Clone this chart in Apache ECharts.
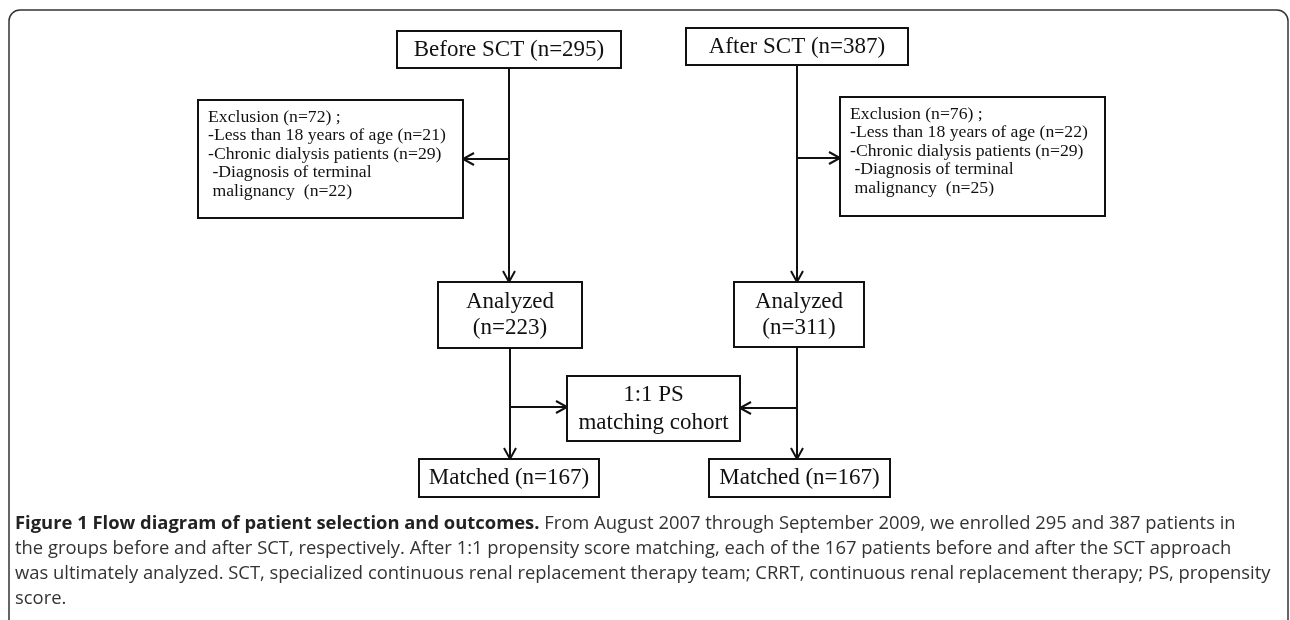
<!DOCTYPE html>
<html>
<head>
<meta charset="utf-8">
<title>Flow diagram of patient selection</title>
<script src="https://cdn.jsdelivr.net/npm/echarts@6/dist/echarts.min.js"></script>
<style>
    html, body { margin: 0; padding: 0; background: #fff; }
    #main { width: 1290px; height: 620px; }
</style>
</head>
<body>
<div id="main"></div>
<script>
    // counts, [before SCT, after SCT]
    var groups = ['Before SCT', 'After SCT'];
    var enrolled = [295, 387];
    var excluded = [72, 76];
    var under18 = [21, 22];
    var dialysis = [29, 29];
    var malignancy = [22, 25];
    var analyzed = [223, 311];
    var matched = [167, 167];
    var matchingLabel = ['1:1 PS', 'matching cohort'];

    function exclusionText(i) {
        return 'Exclusion (n=' + excluded[i] + ') ;\n' +
            '-Less than 18 years of age (n=' + under18[i] + ')\n' +
            '-Chronic dialysis patients (n=' + dialysis[i] + ')\n' +
            ' -Diagnosis of terminal\n' +
            ' malignancy  (n=' + malignancy[i] + ')';
    }

    var nodeTexts = [
        groups[0] + ' (n=' + enrolled[0] + ')',
        groups[1] + ' (n=' + enrolled[1] + ')',
        exclusionText(0),
        exclusionText(1),
        'Analyzed\n(n=' + analyzed[0] + ')',
        'Analyzed\n(n=' + analyzed[1] + ')',
        matchingLabel.join('\n'),
        'Matched (n=' + matched[0] + ')',
        'Matched (n=' + matched[1] + ')'
    ];
    var nodeKind = ['head', 'head', 'excl', 'excl', 'ana', 'ana', 'ps', 'mat', 'mat'];

    // layout: box corners [x0, y0, x1, y1] on the hidden axes
    var nodeBoxes = [
        [397, 31, 621, 68],
        [686, 28, 908, 65],
        [198, 100, 463, 218],
        [840, 97, 1105, 216],
        [438, 282, 582, 348],
        [734, 282, 864, 347],
        [567, 376, 740, 441],
        [419, 459, 599, 497],
        [709, 459, 890, 497]
    ];

    // arrows [x0, y0, x1, y1], head at the second point
    var links = [
        [509, 68, 509, 282],
        [509, 159, 463, 159],
        [797, 65, 797, 282],
        [797, 158, 840, 158],
        [510, 348, 510, 459],
        [510, 407, 567, 407],
        [797, 347, 797, 459],
        [797, 408, 740, 408]
    ];

    var ink = '#111';

    function renderBox(params, api) {
        var i = params.dataIndex;
        var p0 = api.coord([api.value(0), api.value(1)]);
        var p1 = api.coord([api.value(2), api.value(3)]);
        var w = p1[0] - p0[0];
        var h = p1[1] - p0[1];
        var kind = nodeKind[i];
        var left = kind === 'excl';
        var lh = left ? 18.5 : (kind === 'ps' ? 28 : 26);
        return {
            type: 'group',
            children: [{
                type: 'rect',
                shape: { x: p0[0], y: p0[1], width: w, height: h },
                style: { fill: '#fff', stroke: ink, lineWidth: 2 }
            }, {
                type: 'text',
                style: {
                    text: nodeTexts[i],
                    x: left ? p0[0] + 10 : p0[0] + w / 2,
                    y: left ? p0[1] + 8 : p0[1] + h / 2,
                    align: left ? 'left' : 'center',
                    verticalAlign: left ? 'top' : 'middle',
                    fontFamily: 'Liberation Serif',
                    fontSize: left ? 17.7 : 23,
                    lineHeight: lh,
                    fill: ink
                }
            }]
        };
    }

    function renderLink(params, api) {
        var a = api.coord([api.value(0), api.value(1)]);
        var b = api.coord([api.value(2), api.value(3)]);
        var dx = b[0] - a[0], dy = b[1] - a[1];
        var len = Math.sqrt(dx * dx + dy * dy);
        var ux = dx / len, uy = dy / len;
        var L = 11, W = 6;
        return {
            type: 'group',
            children: [{
                type: 'line',
                shape: { x1: a[0], y1: a[1], x2: b[0], y2: b[1] },
                style: { stroke: ink, lineWidth: 2 }
            }, {
                type: 'polyline',
                shape: {
                    points: [
                        [b[0] - ux * L - uy * W, b[1] - uy * L + ux * W],
                        [b[0], b[1]],
                        [b[0] - ux * L + uy * W, b[1] - uy * L - ux * W]
                    ]
                },
                style: { stroke: ink, lineWidth: 2, fill: null }
            }]
        };
    }

    var caption =
        '{b|Figure 1 Flow diagram of patient selection and outcomes.}{n| From August 2007 through September 2009, we enrolled 295 and 387 patients in}\n' +
        '{n|the groups before and after SCT, respectively. After 1:1 propensity score matching, each of the 167 patients before and after the SCT approach}\n' +
        '{n|was ultimately analyzed. SCT, specialized continuous renal replacement therapy team; CRRT, continuous renal replacement therapy; PS, propensity}\n' +
        '{n|score.}';

    var myChart = echarts.init(document.getElementById('main'));
    var option = {
        animation: false,
        backgroundColor: '#fff',
        title: {
            left: 15,
            top: 511,
            padding: 0,
            text: caption,
            textStyle: {
                fontWeight: 'normal',
                rich: {
                    b: { fontFamily: 'Open Sans', fontSize: 18.4, fontWeight: 'bold', color: '#222', lineHeight: 25 },
                    n: { fontFamily: 'Open Sans', fontSize: 18.4, fontWeight: 'normal', color: '#333', lineHeight: 25 }
                }
            }
        },
        grid: { left: 0, right: 0, top: 0, bottom: 0 },
        xAxis: { type: 'value', min: 0, max: 1290, show: false },
        yAxis: { type: 'value', min: 0, max: 620, inverse: true, show: false },
        graphic: [{
            // outer figure frame, open at the bottom
            type: 'rect',
            shape: { x: 9, y: 10, width: 1279, height: 640, r: [11, 11, 0, 0] },
            style: { fill: 'none', stroke: '#333', lineWidth: 1.5 },
            silent: true
        }],
        series: [{
            type: 'custom',
            name: 'links',
            silent: true,
            renderItem: renderLink,
            encode: { x: [0, 2], y: [1, 3] },
            data: links
        }, {
            type: 'custom',
            name: 'boxes',
            silent: true,
            renderItem: renderBox,
            encode: { x: [0, 2], y: [1, 3] },
            data: nodeBoxes
        }]
    };
    myChart.setOption(option);
</script>
</body>
</html>
